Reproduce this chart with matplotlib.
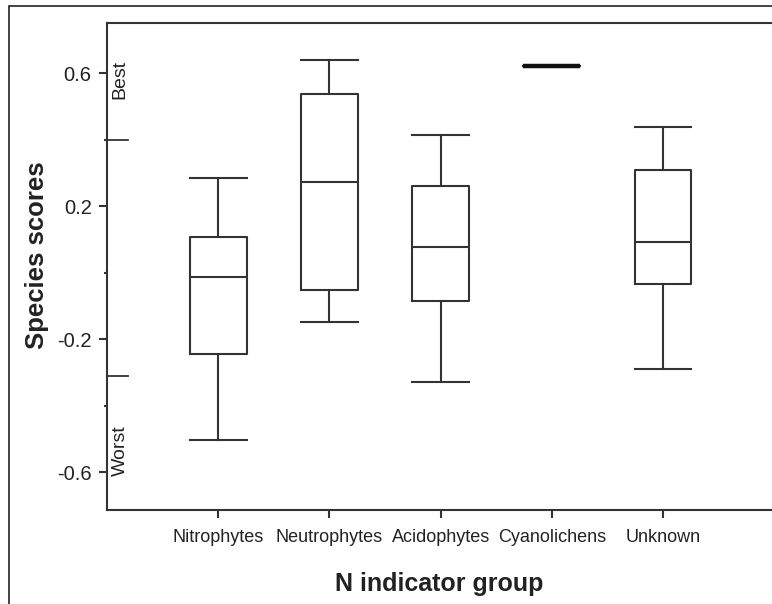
import matplotlib
matplotlib.use("Agg")
import matplotlib.pyplot as plt
import matplotlib.transforms as mtransforms
from matplotlib.patches import Rectangle

plt.rcParams["font.family"] = ["Liberation Sans", "DejaVu Sans"]

groups = ["Nitrophytes", "Neutrophytes", "Acidophytes", "Cyanolichens", "Unknown"]
whisker_low = [-0.502, -0.148, -0.328, 0.621, -0.290]
q1 = [-0.245, -0.053, -0.086, 0.621, -0.033]
medians = [-0.014, 0.271, 0.076, 0.621, 0.093]
q3 = [0.108, 0.537, 0.260, 0.621, 0.308]
whisker_high = [0.285, 0.639, 0.414, 0.621, 0.439]

# thresholds marked with inner ticks on the y axis
threshold_best = 0.40
threshold_worst = -0.31

ink = "#333333"

stats = []
for name, lo, a, m, b, hi in zip(groups, whisker_low, q1, medians, q3, whisker_high):
    stats.append({"label": name, "whislo": lo, "q1": a, "med": m, "q3": b,
                  "whishi": hi, "fliers": []})

fig = plt.figure(figsize=(7.72, 6.04), dpi=100)
ax = fig.add_axes([0.1386, 0.1556, 0.860, 0.806])

positions = list(range(1, len(groups) + 1))
parts = ax.bxp(stats, positions=positions, widths=0.51, capwidths=0.51,
               showfliers=False,
               boxprops=dict(color=ink, linewidth=1.5),
               whiskerprops=dict(color=ink, linewidth=1.5),
               capprops=dict(color=ink, linewidth=1.5),
               medianprops=dict(color=ink, linewidth=1.5))
# the collapsed cyanolichen box shows as one heavy bar
parts["medians"][3].set_linewidth(3.2)
parts["medians"][3].set_color("#111111")

ax.set_xlim(0, 5.97)
ax.set_ylim(-0.714, 0.750)

ax.set_yticks([0.6, 0.2, -0.2, -0.6])
ax.set_yticklabels(["0.6", "0.2", "-0.2", "-0.6"])
ax.set_yticks([0.4, 0.0, -0.4], minor=True)
ax.tick_params(axis="y", which="major", direction="out", length=6, width=1.5,
               color=ink, labelsize=14.5, pad=5, labelcolor="#222222")
ax.tick_params(axis="y", which="minor", direction="out", length=2.5, width=1.5,
               color=ink)
ax.set_xticks(positions)
ax.set_xticklabels(groups)
ax.tick_params(axis="x", direction="out", length=6, width=1.5, color=ink,
               labelsize=13, pad=7.5, labelcolor="#222222")

for side in ["left", "bottom", "top"]:
    ax.spines[side].set_linewidth(1.5)
    ax.spines[side].set_color(ink)
ax.spines["right"].set_visible(False)

blend = mtransforms.blended_transform_factory(ax.transAxes, ax.transData)
for t in [threshold_best, threshold_worst]:
    ax.plot([0, 0.032], [t, t], color=ink, linewidth=1.3, transform=blend,
            clip_on=False)

ax.text(0.007, 0.582, "Best", rotation=90, ha="left", va="center",
        fontsize=14, color="#222222", transform=blend)
ax.text(0.007, -0.536, "Worst", rotation=90, ha="left", va="center",
        fontsize=14, color="#222222", transform=blend)

ax.set_ylabel("Species scores", fontsize=18.5, fontweight="bold", color="#222222")
ax.yaxis.set_label_coords(-0.088, 0.524)
ax.set_xlabel("N indicator group", fontsize=18, fontweight="bold", color="#222222")
ax.xaxis.set_label_coords(0.5, -0.128)

fig.add_artist(Rectangle((9 / 772, -0.1), 1.2, 1 - 6 / 604 + 0.1, fill=False,
                         transform=fig.transFigure, linewidth=1.2,
                         edgecolor="#222222"))

fig.savefig("out.png", dpi=100)
